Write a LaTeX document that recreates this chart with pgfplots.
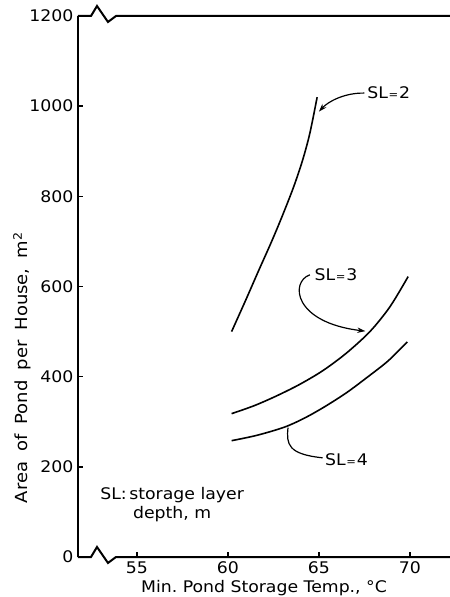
\documentclass[border=0pt]{standalone}
\usepackage{fontspec}
\setmainfont{DejaVu Sans}[FakeStretch=1.08]
\usepackage{pgfplots}
\pgfplotsset{compat=1.18}
\usetikzlibrary{arrows.meta}
\newcommand{\eqs}{\kern0.5pt{\fontsize{8}{8}\selectfont=}\kern0.5pt}
\begin{document}
\begin{tikzpicture}[font=\fontsize{12}{14}\selectfont]
\begin{axis}[
  scale only axis,
  width=279pt, height=405.75pt,
  xmin=51.76, xmax=72.2,
  ymin=0, ymax=1200,
  axis x line=bottom, axis y line=left,
  x axis line style={draw=none},
  y axis line style={-, line width=1.5pt},
  xtick={55,60,65,70},
  ytick={0,200,400,600,800,1000,1200},
  tick align=inside,
  major tick length=4pt,
  every tick/.style={black, line width=1pt},
  tick label style={font=\fontsize{12}{14}\selectfont},
  /pgf/number format/assume math mode=true,
  /pgf/number format/1000 sep={},
  xlabel={Min.\ Pond Storage Temp., °C},
  ylabel={\spaceskip=0.6em Area of Pond per House, m\textsuperscript{2}},
  every axis x label/.style={at={(axis description cs:0.5,0)}, yshift=-23pt, anchor=center, font=\fontsize{12}{14}\selectfont},
  every axis y label/.style={at={(axis description cs:-0.15,0.35)}, rotate=90, anchor=center, font=\fontsize{12.5}{14}\selectfont},
  clip=false,
]
% SL = 2
\addplot[black, line width=1.2pt, smooth] coordinates {
  (60.2,500) (61,572) (61.65,632) (62.4,700) (63,758) (63.6,820) (64.1,880) (64.5,940) (64.9,1020)
};
% SL = 3
\addplot[black, line width=1.2pt, smooth] coordinates {
  (60.2,318) (61.4,335) (62.6,356) (63.9,382) (65.2,413) (66.5,452) (67.8,500) (68.9,555) (69.9,622)
};
% SL = 4
\addplot[black, line width=1.2pt, smooth] coordinates {
  (60.2,258) (61.6,270) (63.1,288) (64.2,308) (65.3,333) (66.5,364) (67.6,397) (68.8,435) (69.85,477)
};
\coordinate (O) at (axis cs:51.76,0);
\coordinate (B1) at (axis cs:72.2,0);
\coordinate (T0) at (axis cs:51.76,1200);
\coordinate (T1) at (axis cs:72.2,1200);
% annotations
\node[anchor=west, inner sep=0pt] at (axis cs:67.65,1029) {SL\eqs 2};
\draw[line width=0.9pt, -{Stealth[length=6pt,width=4pt]}] (axis cs:67.5,1029) .. controls (axis cs:66.4,1030) and (axis cs:65.5,1010) .. (axis cs:65.0,988);
\node[anchor=west, inner sep=0pt] at (axis cs:64.75,626) {SL\eqs 3};
\draw[line width=0.9pt, -{Stealth[length=6pt,width=4pt]}] (axis cs:64.5,626) .. controls (axis cs:63.4,610) and (axis cs:63.6,520) .. (axis cs:67.55,501);
\node[anchor=west, inner sep=0pt] at (axis cs:65.33,216) {SL\eqs 4};
\draw[line width=0.9pt] (axis cs:65.2,220) .. controls (axis cs:63.3,228) and (axis cs:63.2,250) .. (axis cs:63.3,287);
\node[align=center, inner sep=0pt] at (axis cs:56.93,116) {SL:\,storage layer\\depth, m};
\end{axis}
% axis lines with breaks
\draw[line width=1.5pt, line join=miter] (O) -- ++(9.75pt,0pt) -- ++(4.5pt,7.5pt) -- ++(8.25pt,-12pt) -- ++(6pt,4.5pt) -- (B1);
\draw[line width=1.5pt, line join=miter] (T0) -- ++(9.75pt,0pt) -- ++(4.5pt,7.5pt) -- ++(8.25pt,-12pt) -- ++(6pt,4.5pt) -- (T1);
\pgfresetboundingbox
\path (O) ++(-58.5pt,-30pt) rectangle ++(337.5pt,447.75pt);
\end{tikzpicture}
\end{document}
